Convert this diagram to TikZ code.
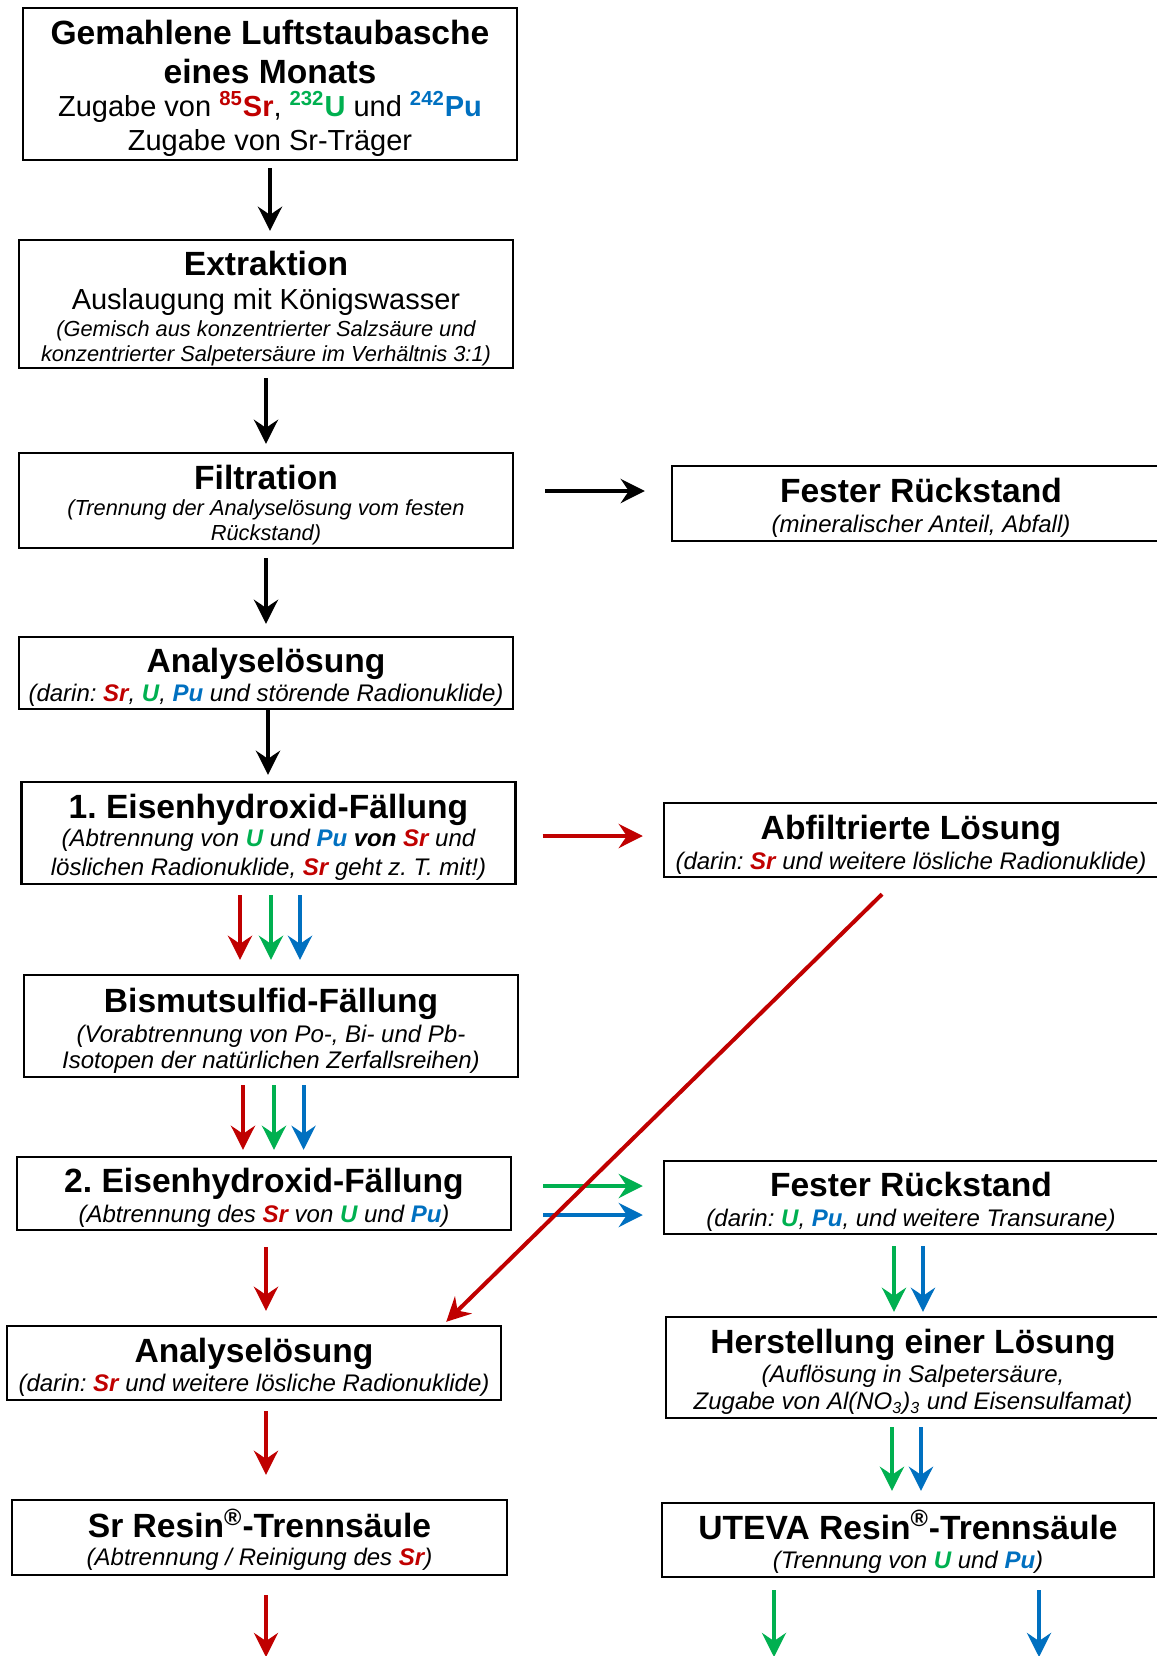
\documentclass[tikz,border=0pt]{standalone}
\usepackage{fontspec}
\setmainfont{Liberation Sans}
\usepackage{tikz}
\usetikzlibrary{arrows.meta, calc}
\definecolor{srrot}{HTML}{C00000}
\definecolor{ugruen}{HTML}{00B050}
\definecolor{publau}{HTML}{0070C0}
\newcommand{\titel}{\fontsize{16.8}{19.5}\selectfont\bfseries\rule{0pt}{16.5pt}}
\newcommand{\zweite}{\fontsize{16.8}{19.5}\selectfont\bfseries}
\newcommand{\grund}{\fontsize{14.5}{17}\selectfont}
\newcommand{\klein}{\fontsize{12}{14.5}\selectfont\itshape}
\newcommand{\kleiner}{\fontsize{10.9}{12.2}\selectfont\itshape}
\newcommand{\el}[2]{\textcolor{#1}{\textbf{#2}}}

\begin{document}
\begin{tikzpicture}[x=0.5pt,y=-0.5pt,->,>={Stealth[length=12pt,width=12pt,inset=4pt]},line width=2pt]
                \tikzstyle{box}=[draw,line width=1.2pt,minimum width=247pt,inner sep=0pt,align=center,font=\fontsize{12}{14.5}\selectfont\frenchspacing]
                \useasboundingbox (0,0) rectangle (1157,1656);

                \node[box,minimum height=76pt]   (A) at (270,84)      {{\titel Gemahlene Luftstaubasche}\\[5pt]{\zweite eines Monats}\\[1.8pt]{\grund Zugabe von \el{srrot}{\textsuperscript{85}Sr}, \el{ugruen}{\textsuperscript{232}U} und \el{publau}{\textsuperscript{242}Pu}}\\[2.5pt]{\grund Zugabe von Sr-Träger}};
                \node[box,minimum height=64pt]   (B) at (266,304)     {{\titel Extraktion}\\[2.3pt]{\grund Auslaugung mit Königswasser}\\[-0.7pt]{\kleiner (Gemisch aus konzentrierter Salzsäure und}\\[-2.3pt]{\kleiner konzentrierter Salpetersäure im Verhältnis 3:1)}};
                \node[box,minimum height=47.5pt] (C) at (266,500.5)   {{\titel Filtration}\\[-1.3pt]{\kleiner (Trennung der Analyselösung vom festen}\\[-2.3pt]{\kleiner Rückstand)}};
                \node[box,minimum height=37.5pt,minimum width=249pt] (D) at (921,503.5) {{\titel Fester Rückstand}\\[0.5pt]{\klein (mineralischer Anteil, Abfall)}};
                \node[box,minimum height=36pt]   (E) at (266,673)     {{\titel Analyselösung}\\{\klein (darin: \el{srrot}{Sr}, \el{ugruen}{U}, \el{publau}{Pu} und störende Radionuklide)}};
                \node[box,minimum height=51pt]   (F) at (268.5,833)   {{\titel 1. Eisenhydroxid-Fällung}\\[-0.7pt]{\klein (Abtrennung von \el{ugruen}{U} und \el{publau}{Pu} \textbf{von} \el{srrot}{Sr} und}\\[0.2pt]{\klein löslichen Radionuklide, \el{srrot}{Sr} geht z. T. mit!)}};
                \node[box,minimum height=37pt]   (G) at (911,840)     {{\titel Abfiltrierte Lösung}\\[0.5pt]{\klein (darin: \el{srrot}{Sr} und weitere lösliche Radionuklide)}};
                \node[box,minimum height=51pt]   (H) at (271,1026)    {{\titel Bismutsulfid-Fällung}\\[0.5pt]{\klein (Vorabtrennung von Po-, Bi- und Pb-}\\[-1.5pt]{\klein Isotopen der natürlichen Zerfallsreihen)}};
                \node[box,minimum height=36.5pt] (I) at (264,1193.5)  {{\titel 2. Eisenhydroxid-Fällung}\\[0.8pt]{\klein (Abtrennung des \el{srrot}{Sr} von \el{ugruen}{U} und \el{publau}{Pu})}};
                \node[box,minimum height=36.5pt] (J) at (911,1197.5)  {{\titel Fester Rückstand}\\[0.5pt]{\klein (darin: \el{ugruen}{U}, \el{publau}{Pu}, und weitere Transurane)}};
                \node[box,minimum height=37pt]   (K) at (254,1363)    {{\titel Analyselösung}\\[0.2pt]{\klein (darin: \el{srrot}{Sr} und weitere lösliche Radionuklide)}};
                \node[box,minimum height=50.5pt] (L) at (913,1367.5)  {{\titel Herstellung einer Lösung}\\{\klein (Auflösung in Salpetersäure,}\\[-1pt]{\klein Zugabe von Al(NO\textsubscript{3})\textsubscript{3} und Eisensulfamat)}};
                \node[box,minimum height=37.5pt,minimum width=247.5pt] (M) at (259.5,1537.5) {{\titel Sr Resin\textsuperscript{®}-Trennsäule}\\[-0.8pt]{\klein (Abtrennung / Reinigung des \el{srrot}{Sr})}};
                \node[box,minimum height=37pt,minimum width=246pt] (N) at (908,1540) {{\titel UTEVA Resin\textsuperscript{®}-Trennsäule}\\{\klein (Trennung von \el{ugruen}{U} und \el{publau}{Pu})}};
                \coordinate (Mout) at (266,1657);
                \coordinate (Nu)   at (774,1657);
                \coordinate (Npu)  at (1039,1657);

                \draw[shorten <=3.5pt, shorten >=4pt] (A.south) -- (A.south |- B.north);
                \draw[shorten <=4.5pt, shorten >=4pt] (B.south) -- (C.north);
                \draw[shorten <=4.5pt, shorten >=6pt] (C.south) -- (E.north);
                \draw[shorten >=3pt] ([xshift=1pt]E.south) -- ([xshift=1pt]E.south |- F.north);
                \draw[shorten <=15.5pt, shorten >=13pt] ([yshift=4.75pt]C.east) -- ([yshift=4.75pt]C.east -| D.west);
                \draw[srrot, shorten <=13pt, shorten >=10pt] ([yshift=-1.5pt]F.east) -- ([yshift=-1.5pt]F.east -| G.west);
                \foreach \dx/\col in {-15.5pt/srrot, 0pt/ugruen, 14.5pt/publau}
                    \draw[\col, shorten <=5pt, shorten >=7pt] ([xshift=\dx]H.north |- F.south) -- ([xshift=\dx]H.north);
                \foreach \dx/\col in {-14pt/srrot, 1.5pt/ugruen, 16.3pt/publau}
                    \draw[\col, shorten <=3.5pt, shorten >=3pt] ([xshift=\dx]H.south) -- ([xshift=\dx]H.south |- I.north);
                \draw[ugruen, shorten <=15.5pt, shorten >=10pt] ([yshift=3.75pt]I.east) -- ([yshift=3.75pt]I.east -| J.west);
                \draw[publau, shorten <=15.5pt, shorten >=10pt] ([yshift=-10.75pt]I.east) -- ([yshift=-10.75pt]I.east -| J.west);
                \draw[srrot, shorten <=8pt, shorten >=7pt] ([xshift=1pt]I.south) -- ([xshift=1pt]I.south |- K.north);
                \draw[srrot] ($(G.south)+(-29,16)$) -- ($(K.north east)+(-56,-3)$);
                \draw[srrot, shorten <=5pt, shorten >=12pt] ([xshift=6pt]K.south) -- ([xshift=6pt]K.south |- M.north);
                \draw[srrot, shorten <=9.5pt] (M.south -| Mout) -- (Mout);
                \draw[ugruen, shorten <=5.5pt, shorten >=2pt] ([xshift=-8.5pt]J.south) -- ([xshift=-8.5pt]J.south |- L.north);
                \draw[publau, shorten <=5.5pt, shorten >=2pt] ([xshift=6pt]J.south) -- ([xshift=6pt]J.south |- L.north);
                \draw[ugruen, shorten <=4pt, shorten >=5.5pt] ([xshift=-10.5pt]L.south) -- ([xshift=-10.5pt]L.south |- N.north);
                \draw[publau, shorten <=4pt, shorten >=5.5pt] ([xshift=4pt]L.south) -- ([xshift=4pt]L.south |- N.north);
                \draw[ugruen, shorten <=6pt] (N.south -| Nu) -- (Nu);
                \draw[publau, shorten <=6pt] (N.south -| Npu) -- (Npu);
            \end{tikzpicture}
\end{document}
